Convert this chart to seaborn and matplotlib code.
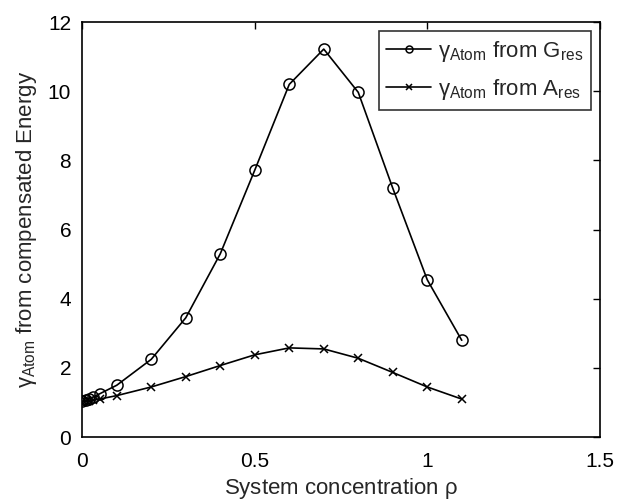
import matplotlib
matplotlib.use("Agg")
import matplotlib.pyplot as plt
import seaborn as sns
import pandas as pd

conc = [0, 0.01, 0.02, 0.03, 0.05, 0.1, 0.2, 0.3, 0.4, 0.5, 0.6, 0.7, 0.8, 0.9, 1.0, 1.1]
gamma_G = [1.03, 1.06, 1.10, 1.15, 1.25, 1.50, 2.25, 3.45, 5.30, 7.72, 10.20, 11.22, 9.97, 7.20, 4.55, 2.80]
gamma_A = [1.02, 1.03, 1.04, 1.06, 1.10, 1.20, 1.45, 1.75, 2.07, 2.38, 2.58, 2.55, 2.28, 1.87, 1.45, 1.10]

label_G = r'$\gamma_{\mathrm{Atom}}$ from G$_{\mathrm{res}}$'
label_A = r'$\gamma_{\mathrm{Atom}}$ from A$_{\mathrm{res}}$'

sns.set_style("white")
plt.rcParams["font.family"] = ["Liberation Sans", "DejaVu Sans"]
plt.rcParams["mathtext.fontset"] = "custom"
plt.rcParams["mathtext.rm"] = "Liberation Sans"
plt.rcParams["mathtext.it"] = "Liberation Sans"
plt.rcParams["mathtext.bf"] = "Liberation Sans:bold"

fig = plt.figure(figsize=(6.28, 5.03), dpi=100)
ax = fig.add_axes([0.131, 0.131, 0.824, 0.825])

sns.lineplot(x=conc, y=gamma_G, marker="o", color="black", label=label_G,
             markersize=8, markerfacecolor="none", markeredgecolor="black",
             markeredgewidth=1.1, linewidth=1.2, ax=ax, sort=False)
sns.lineplot(x=conc, y=gamma_A, marker="x", color="black", label=label_A,
             markersize=6, markeredgecolor="black",
             markeredgewidth=1.1, linewidth=1.2, ax=ax, sort=False)

ax.set_xlim(0, 1.5)
ax.set_ylim(0, 12)
ax.set_xticks([0, 0.5, 1, 1.5])
ax.set_xticklabels(["0", "0.5", "1", "1.5"])
ax.set_yticks(range(0, 13, 2))
ax.tick_params(direction="in", top=True, right=True, labelsize=15, length=5, width=1, colors="black")
ax.tick_params(axis="x", pad=11)
ax.tick_params(axis="y", pad=8)
for s in ax.spines.values():
    s.set_visible(True)
    s.set_color("black")
    s.set_linewidth(1.2)

ax.set_xlabel(r"System concentration $\rho$", fontsize=16, labelpad=3)
ax.set_ylabel(r"$\gamma_{\mathrm{Atom}}$ from compensated Energy", fontsize=16, labelpad=6)

leg = ax.legend(loc="upper right", fontsize=16, frameon=True, fancybox=False,
                edgecolor="black", handlelength=2.0, borderpad=0.35, labelspacing=0.6,
                handletextpad=0.3, borderaxespad=0.4)
leg.get_frame().set_linewidth(1.2)
for h in leg.legend_handles:
    h.set_markersize(5)

fig.savefig("out.png", dpi=100)
